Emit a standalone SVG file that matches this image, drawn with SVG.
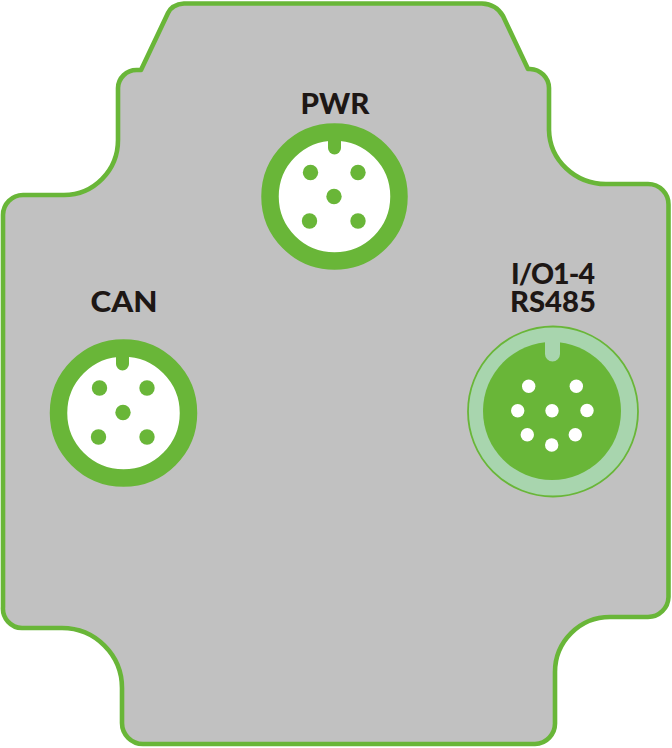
<svg xmlns="http://www.w3.org/2000/svg" width="672" height="748" viewBox="0 0 672 748">
<style>
.solid{fill:#69b638}
.hole{fill:#fff}
.lbl{font-family:"Lato","Open Sans","Liberation Sans",sans-serif;font-weight:900;font-size:28.5px;fill:#1d1715}
</style>
<rect width="672" height="748" fill="#fff"/>
<g id="housing">
<path fill="#c1c1c1" stroke="#69b638" stroke-width="4.600" stroke-linejoin="round" d="M184 3.500H482Q496 4 503 16L528 69H530A19.500 19.500 0 0 1 549 88V130A57 55 0 0 0 606 184H648A20.500 20.500 0 0 1 668.500 205V597A20.500 20.500 0 0 1 648 617H610A55 55 0 0 0 555 672V723A20.500 20.500 0 0 1 535 744H143A21 21 0 0 1 122 723V688A60 60 0 0 0 62 628H22A19.500 19.500 0 0 1 3 607V215A20 20 0 0 1 23 195H64A54 55 0 0 0 118 140V88A18.500 18.500 0 0 1 136.500 70H141L168 13Q172 4.500 184 3.500Z"/>
</g>
<g id="conn-pwr">
<circle class="hole" cx="334.500" cy="196.500" r="64.500" stroke="#69b638" stroke-width="17.500"/>
<path class="solid" d="M328 132V148A6.500 6.500 0 0 0 341 148V132Z"/>
<circle class="solid" cx="310.500" cy="172.500" r="7.700"/><circle class="solid" cx="358" cy="172.500" r="7.700"/>
<circle class="solid" cx="334" cy="196.500" r="7.700"/>
<circle class="solid" cx="309.500" cy="221" r="7.700"/><circle class="solid" cx="358" cy="221" r="7.700"/>
<text class="lbl" x="300.500" y="114" textLength="69" lengthAdjust="spacingAndGlyphs">PWR</text>
</g>
<g id="conn-can">
<circle class="hole" cx="123.500" cy="413" r="65" stroke="#69b638" stroke-width="17.500"/>
<path class="solid" d="M116 350V364A6.500 6.500 0 0 0 129 364V350Z"/>
<circle class="solid" cx="99.500" cy="388" r="7.700"/><circle class="solid" cx="147" cy="388" r="7.700"/>
<circle class="solid" cx="123" cy="412.500" r="7.700"/>
<circle class="solid" cx="98.500" cy="437" r="7.700"/><circle class="solid" cx="147" cy="437" r="7.700"/>
<text class="lbl" x="90.500" y="312" textLength="67" lengthAdjust="spacingAndGlyphs">CAN</text>
</g>
<g id="conn-io">
<circle cx="553" cy="411.500" r="85" fill="#a8d5ae" stroke="#69b638" stroke-width="1.800"/>
<circle class="solid" cx="552" cy="411" r="69"/>
<path fill="#a8d5ae" d="M545 340V354A7.500 7.500 0 0 0 560 354V340Z"/>
<circle class="hole" cx="528.700" cy="386.300" r="6.700"/><circle class="hole" cx="576.300" cy="386.300" r="6.700"/>
<circle class="hole" cx="517.700" cy="410.700" r="6.700"/><circle class="hole" cx="552" cy="410.700" r="6.700"/><circle class="hole" cx="587" cy="410.500" r="6.700"/>
<circle class="hole" cx="527.300" cy="434.700" r="6.700"/><circle class="hole" cx="575.300" cy="434.700" r="6.700"/>
<circle class="hole" cx="551.700" cy="445" r="6.700"/>
<text class="lbl" x="511" y="284" textLength="84" lengthAdjust="spacing">I/O1-4</text>
<text class="lbl" x="510" y="312" textLength="86" lengthAdjust="spacingAndGlyphs">RS485</text>
</g>
</svg>
